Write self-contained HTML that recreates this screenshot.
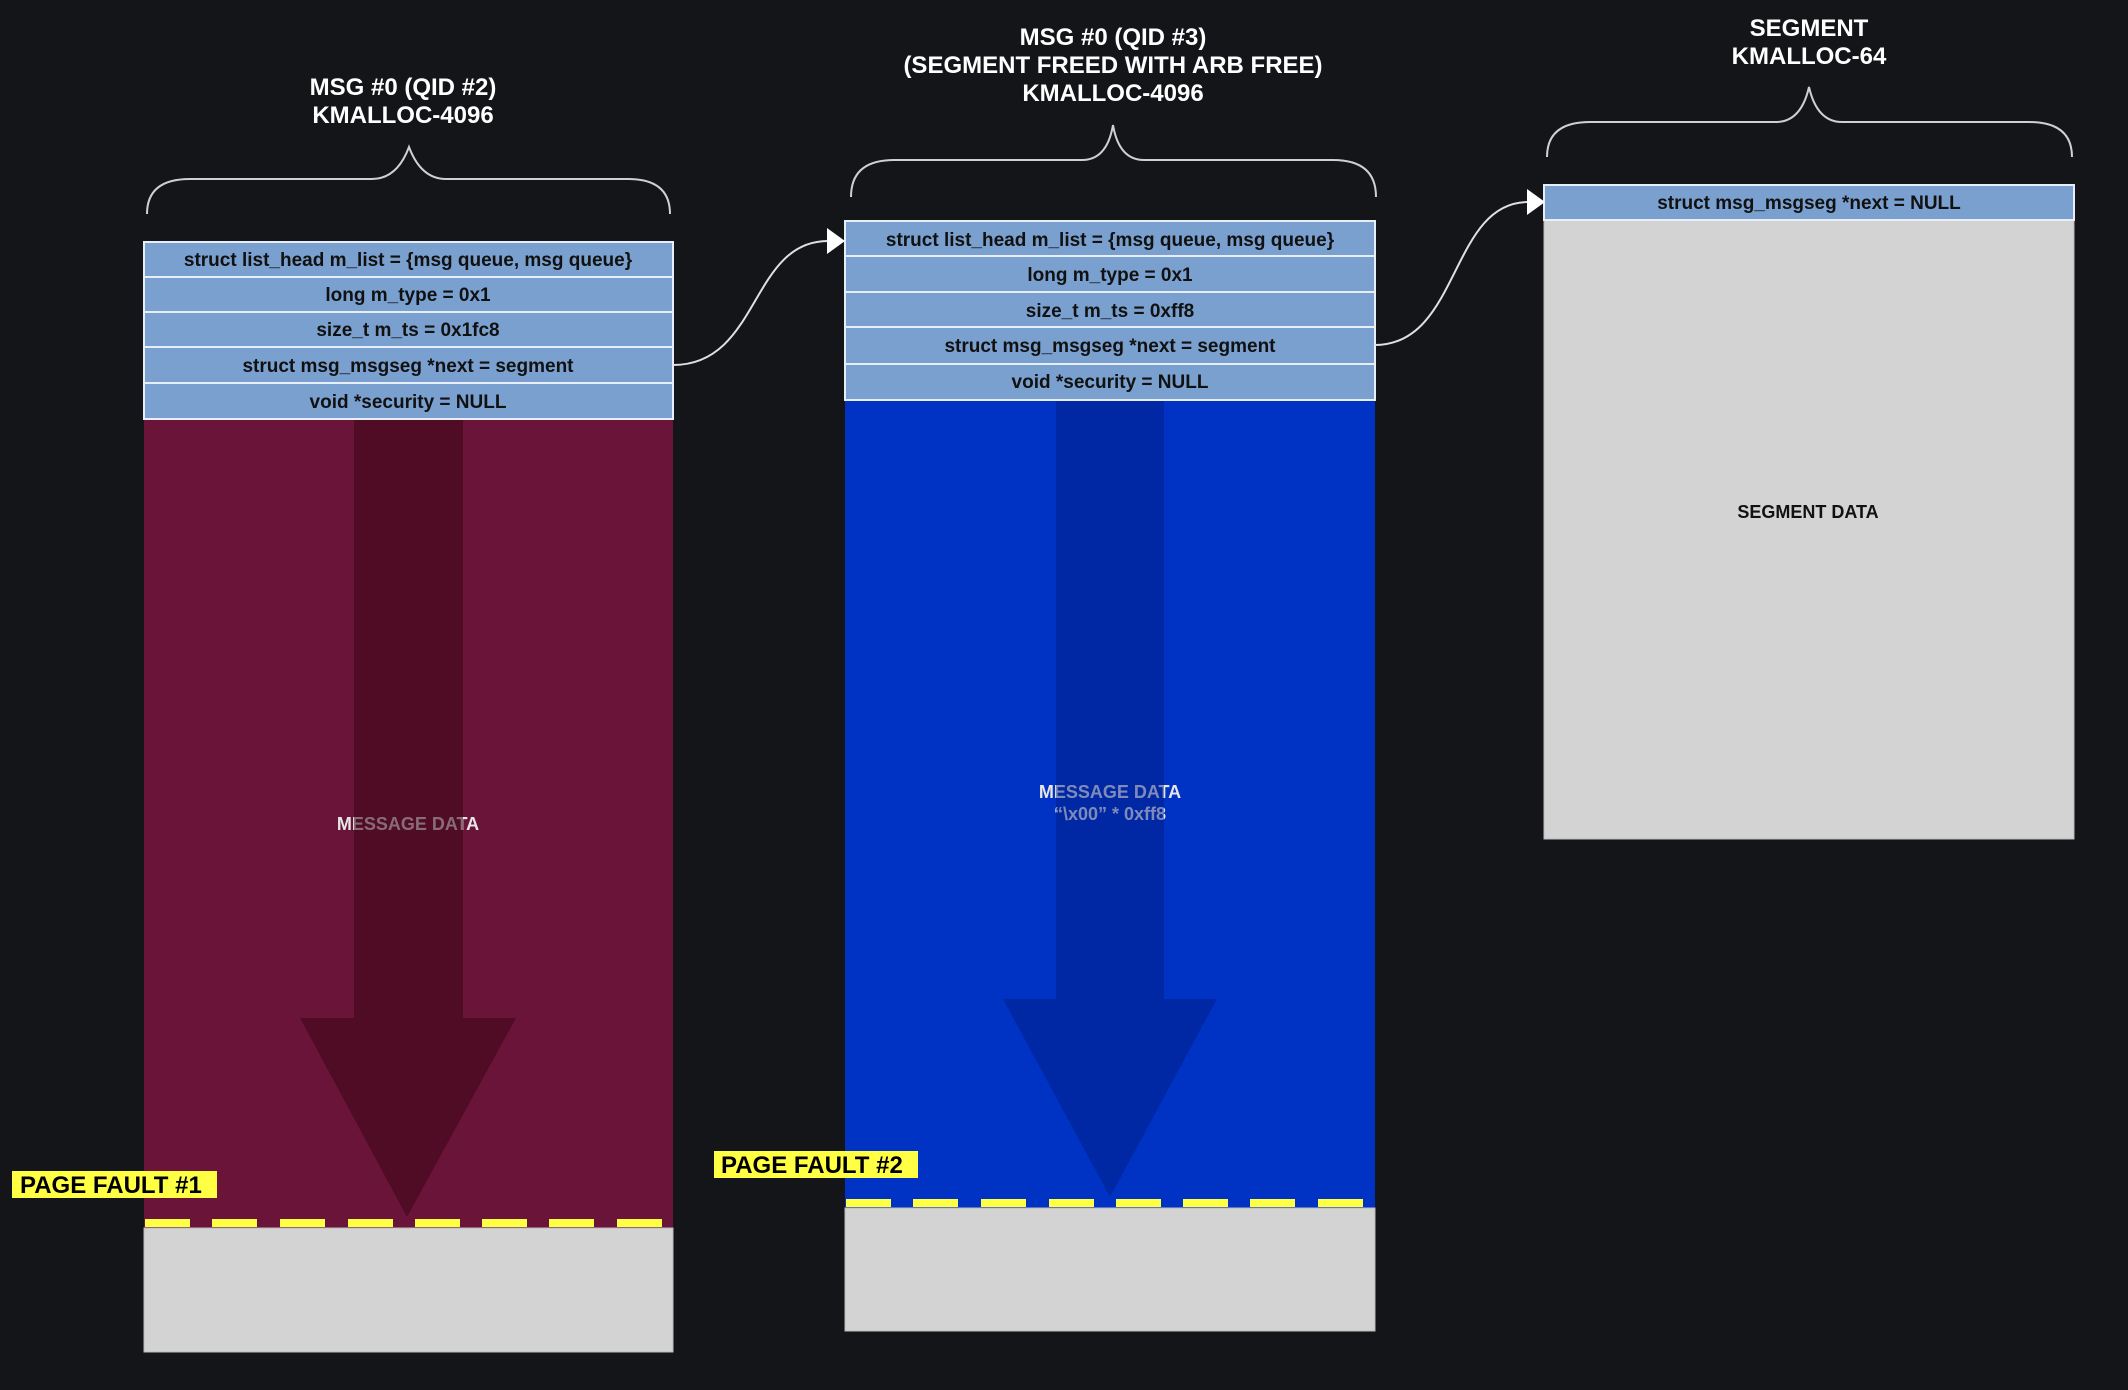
<!DOCTYPE html>
<html><head><meta charset="utf-8"><style>
html,body{margin:0;padding:0;background:#141518;}
svg{display:block}
text{font-family:"Liberation Sans",sans-serif;font-weight:bold;}
</style></head><body>
<svg width="2128" height="1390" viewBox="0 0 2128 1390" xmlns="http://www.w3.org/2000/svg">
<rect width="2128" height="1390" fill="#141518"/>
<g fill="#fff" font-size="24" text-anchor="middle">
<text x="403" y="95">MSG #0 (QID #2)</text>
<text x="403" y="123">KMALLOC-4096</text>
<text x="1113" y="45">MSG #0 (QID #3)</text>
<text x="1113" y="73">(SEGMENT FREED WITH ARB FREE)</text>
<text x="1113" y="101">KMALLOC-4096</text>
<text x="1809" y="36">SEGMENT</text>
<text x="1809" y="64">KMALLOC-64</text>
</g>
<g fill="none" stroke="#d0d0d0" stroke-width="2">
<path d="M147,214 Q147,179 190,179 L372,179 Q397,179 409,147 Q421,179 446,179 L628,179 Q670,179 670,214"/>
<path d="M851,197 Q851,160 894,160 L1082,160 Q1107,160 1113,125 Q1119,160 1144,160 L1333,160 Q1376,160 1376,197"/>
<path d="M1547,157 Q1547,122 1590,122 L1776,122 Q1801,122 1809,87 Q1817,122 1842,122 L2029,122 Q2072,122 2072,157"/>
</g>
<rect x="144" y="419" width="529" height="809" fill="#6a1439"/>
<rect x="144" y="1228" width="529" height="124" fill="#d3d3d3" stroke="#bbb" stroke-width="1"/>
<text x="408" y="830" fill="#e6e6e6" font-size="18" text-anchor="middle">MESSAGE DATA</text>
<path d="M354,419 L463,419 L463,1018 L516,1018 L407,1217 L300,1018 L354,1018 Z" fill="#3a0516" fill-opacity="0.55"/>
<g fill="#ffff44">
<rect x="145" y="1219" width="45" height="8"/><rect x="212" y="1219" width="45" height="8"/><rect x="280" y="1219" width="45" height="8"/><rect x="348" y="1219" width="45" height="8"/><rect x="415" y="1219" width="45" height="8"/><rect x="482" y="1219" width="45" height="8"/><rect x="549" y="1219" width="45" height="8"/><rect x="617" y="1219" width="45" height="8"/>
</g>
<g stroke="#e8eef8" stroke-width="2" fill="#7aa0cf">
<rect x="144" y="242" width="529" height="35"/>
<rect x="144" y="277" width="529" height="35"/>
<rect x="144" y="312" width="529" height="35"/>
<rect x="144" y="347" width="529" height="36"/>
<rect x="144" y="383" width="529" height="36"/>
</g>
<g fill="#111" font-size="19" text-anchor="middle">
<text x="408" y="266">struct list_head m_list = {msg queue, msg queue}</text>
<text x="408" y="301">long m_type = 0x1</text>
<text x="408" y="336">size_t m_ts = 0x1fc8</text>
<text x="408" y="372">struct msg_msgseg *next = segment</text>
<text x="408" y="408">void *security = NULL</text>
</g>
<rect x="845" y="400" width="530" height="808" fill="#0033c4"/>
<rect x="845" y="1208" width="530" height="123" fill="#d3d3d3" stroke="#bbb" stroke-width="1"/>
<g fill="#e6e6e6" font-size="18" text-anchor="middle">
<text x="1110" y="798">MESSAGE DATA</text>
<text x="1110" y="820">“\x00” * 0xff8</text>
</g>
<path d="M1056,400 L1164,400 L1164,999 L1217,999 L1110,1197 L1003,999 L1056,999 Z" fill="#001a80" fill-opacity="0.45"/>
<g fill="#ffff44">
<rect x="846" y="1199" width="45" height="8"/><rect x="913" y="1199" width="45" height="8"/><rect x="981" y="1199" width="45" height="8"/><rect x="1049" y="1199" width="45" height="8"/><rect x="1116" y="1199" width="45" height="8"/><rect x="1183" y="1199" width="45" height="8"/><rect x="1250" y="1199" width="45" height="8"/><rect x="1318" y="1199" width="45" height="8"/>
</g>
<g stroke="#e8eef8" stroke-width="2" fill="#7aa0cf">
<rect x="845" y="221" width="530" height="35"/>
<rect x="845" y="256" width="530" height="36"/>
<rect x="845" y="292" width="530" height="35"/>
<rect x="845" y="327" width="530" height="37"/>
<rect x="845" y="364" width="530" height="36"/>
</g>
<g fill="#111" font-size="19" text-anchor="middle">
<text x="1110" y="246">struct list_head m_list = {msg queue, msg queue}</text>
<text x="1110" y="281">long m_type = 0x1</text>
<text x="1110" y="317">size_t m_ts = 0xff8</text>
<text x="1110" y="352">struct msg_msgseg *next = segment</text>
<text x="1110" y="388">void *security = NULL</text>
</g>
<rect x="1544" y="220" width="530" height="619" fill="#d3d3d3" stroke="#bbb" stroke-width="1"/>
<rect x="1544" y="185" width="530" height="35" fill="#7aa0cf" stroke="#e8eef8" stroke-width="2"/>
<text x="1809" y="209" fill="#111" font-size="19" text-anchor="middle">struct msg_msgseg *next = NULL</text>
<text x="1808" y="518" fill="#111" font-size="18" text-anchor="middle">SEGMENT DATA</text>
<g fill="none" stroke="#e0e0e0" stroke-width="2">
<path d="M673,365 C760,365 750,241 828,241"/>
<path d="M1375,345 C1460,345 1450,202 1528,202"/>
</g>
<path d="M827,228 L845,241 L827,254 Z" fill="#fff"/>
<path d="M1527,189 L1545,202 L1527,215 Z" fill="#fff"/>
<rect x="12" y="1171" width="205" height="27" fill="#ffff44"/>
<text x="20" y="1193" fill="#000" font-size="24">PAGE FAULT #1</text>
<rect x="714" y="1151" width="204" height="27" fill="#ffff44"/>
<text x="721" y="1173" fill="#000" font-size="24">PAGE FAULT #2</text>
</svg>
</body></html>
